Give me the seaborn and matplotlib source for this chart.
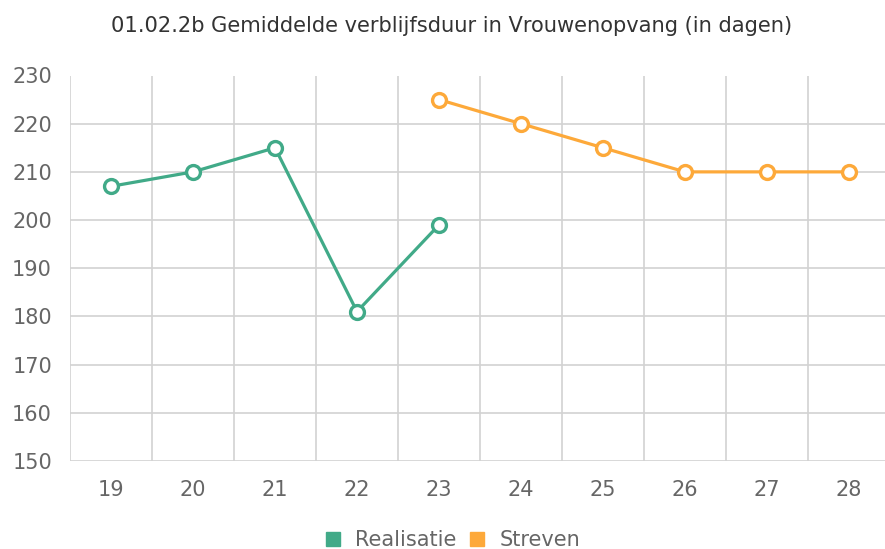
import matplotlib
matplotlib.use("Agg")
import matplotlib.pyplot as plt
import seaborn as sns
import pandas as pd
from matplotlib.lines import Line2D

categories = ["19", "20", "21", "22", "23", "24", "25", "26", "27", "28"]
realisatie_cats = ["19", "20", "21", "22", "23"]
realisatie = [207, 210, 215, 181, 199]
streven_cats = ["23", "24", "25", "26", "27", "28"]
streven = [225, 220, 215, 210, 210, 210]
yticks = [150, 160, 170, 180, 190, 200, 210, 220, 230]

green = "#41AA88"
orange = "#FDA93A"

sns.set_style("white")
plt.rcParams['font.family'] = ['DejaVu Sans']

df = pd.concat([
    pd.DataFrame({"cat": realisatie_cats, "val": realisatie, "serie": "Realisatie"}),
    pd.DataFrame({"cat": streven_cats, "val": streven, "serie": "Streven"}),
])
df["x"] = df["cat"].map({c: i for i, c in enumerate(categories)})

fig = plt.figure(figsize=(8.85, 5.49), dpi=100)
W, H = 885, 549
left, right, top, bottom = 70, 890, 75.5, 461
ax = fig.add_axes([left / W, (H - bottom) / H, (right - left) / W, (bottom - top) / H])

for name, color in [("Realisatie", green), ("Streven", orange)]:
    sub = df[df["serie"] == name]
    sns.lineplot(data=sub, x="x", y="val", ax=ax, color=color, lw=2.3,
                 marker="o", markersize=10, markerfacecolor="white",
                 markeredgecolor=color, markeredgewidth=2.4, legend=False, zorder=3)

gc = "#d2d2d2"
ax.set_xlim(-0.5, len(categories) - 0.5)
ax.set_ylim(150, 230)
ax.set_yticks(yticks)
ax.set_xticks(range(len(categories)))
ax.set_xticklabels(categories)
ax.set_xticks([i - 0.5 for i in range(len(categories) + 1)], minor=True)
ax.grid(False)
for y in yticks:
    ax.axhline(y, color=gc, lw=1.2, zorder=1)
for i in range(len(categories) + 1):
    ax.axvline(i - 0.5, color=gc, lw=1.2, zorder=1)
for s in ax.spines.values():
    s.set_visible(False)
ax.tick_params(axis="x", which="major", length=0, pad=14, labelsize=15, labelcolor="#666666")
ax.tick_params(axis="x", which="minor", length=6, color=gc, width=1.2)
ax.tick_params(axis="y", length=6, color=gc, width=1.2, pad=7, labelsize=15, labelcolor="#666666")
ax.set_xlabel("")
ax.set_ylabel("")

fig.text(0.510, 1 - 26 / H, "01.02.2b Gemiddelde verblijfsduur in Vrouwenopvang (in dagen)",
         ha="center", va="center", fontsize=15.1, color="#333333")

handles = [Line2D([], [], marker="s", ls="", color=green, markersize=9.5),
           Line2D([], [], marker="s", ls="", color=orange, markersize=9.5)]
fig.legend(handles, ["Realisatie", "Streven"], loc="center", bbox_to_anchor=(0.51, 1 - 540 / H),
           ncol=2, frameon=False, fontsize=15, labelcolor="#666666", handletextpad=0.55,
           columnspacing=0.5, handlelength=1.0, borderpad=0)

fig.savefig("out.png", dpi=100)
